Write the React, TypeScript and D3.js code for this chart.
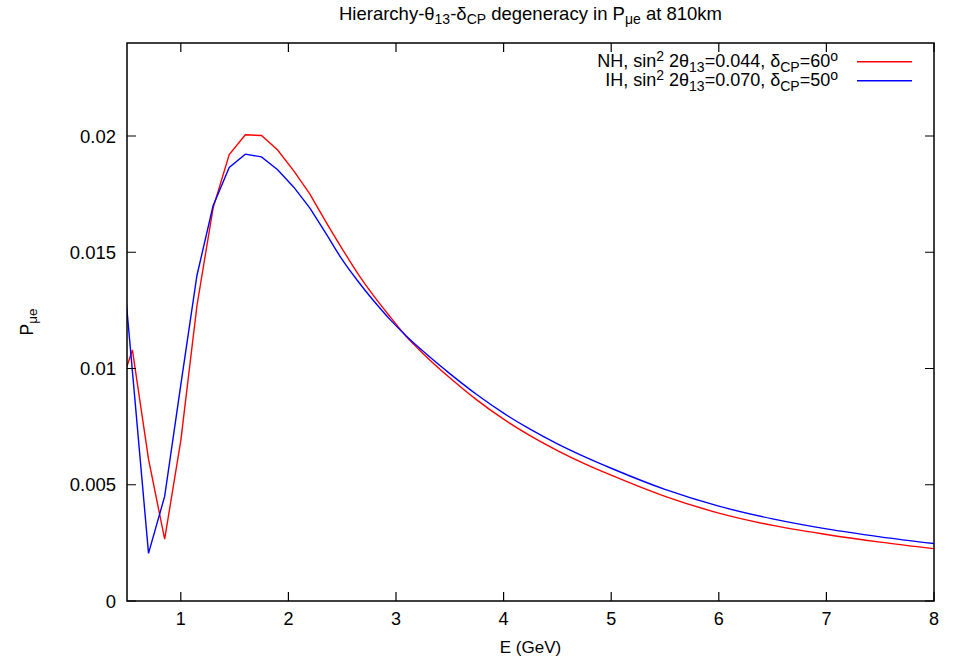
import React from 'react'
import * as d3 from 'd3'

// energies (GeV) and oscillation probabilities
const energies = [0.4, 0.55, 0.7, 0.85, 1.0, 1.15, 1.3, 1.45, 1.6, 1.75, 1.9, 2.05, 2.2, 2.35, 2.5, 2.65, 2.8, 2.95, 3.1, 3.25, 3.5, 3.75, 4.0, 4.25, 4.5, 4.75, 5.0, 5.5, 6.0, 6.5, 7.0, 7.5, 8.0]
const nhValues = [0.0087, 0.0108, 0.0061, 0.00266, 0.0069, 0.0127, 0.0169, 0.0192, 0.02005, 0.02002, 0.0194, 0.0185, 0.0175, 0.0163, 0.01515, 0.01405, 0.01308, 0.0122, 0.01135, 0.01065, 0.0096, 0.00865, 0.00782, 0.0071, 0.00647, 0.00591, 0.00541, 0.0045, 0.00378, 0.00325, 0.00286, 0.00253, 0.00225]
const ihValues = [0.0177, 0.0099, 0.00205, 0.0045, 0.0093, 0.014, 0.017, 0.01865, 0.01922, 0.0191, 0.01855, 0.0178, 0.0169, 0.0158, 0.01468, 0.01373, 0.01287, 0.01208, 0.01138, 0.01075, 0.00978, 0.00888, 0.00808, 0.00738, 0.00676, 0.00621, 0.00571, 0.0048, 0.00408, 0.00353, 0.0031, 0.00276, 0.00247]
// the curves are drawn with straight segments up to here, smooth after
const smoothFrom = 2.2

const xTicks = [1, 2, 3, 4, 5, 6, 7, 8]
const yTicks = [0, 0.005, 0.01, 0.015, 0.02]
const yTickLabels = ['0', '0.005', '0.01', '0.015', '0.02']

function App() {
  const width = 953
  const height = 658
  const margin = { top: 43, right: 19, bottom: 57, left: 127 }
  const innerW = width - margin.left - margin.right
  const innerH = height - margin.top - margin.bottom
  const tick = 9
  const font = 'Liberation Sans, Arial, Helvetica, sans-serif'

  const xScale = d3.scaleLinear().domain([0.5, 8]).range([0, innerW])
  const yScale = d3.scaleLinear().domain([0, 0.024]).range([innerH, 0])

  const rough = d3
    .line<[number, number]>()
    .x(d => xScale(d[0]))
    .y(d => yScale(d[1]))
  const smooth = d3
    .line<[number, number]>()
    .x(d => xScale(d[0]))
    .y(d => yScale(d[1]))
    .curve(d3.curveMonotoneX)

  const series = [
    { name: 'NH', values: nhValues, color: '#ff0000' },
    { name: 'IH', values: ihValues, color: '#0000ff' },
  ]

  const paths = series.map(s => {
    const pts: [number, number][] = energies.map((e, i) => [e, s.values[i]])
    const a = pts.filter(p => p[0] <= smoothFrom)
    const b = pts.filter(p => p[0] >= smoothFrom)
    return { ...s, d: (rough(a) || '') + (smooth(b) || '') }
  })

  return (
    <div style={{ position: 'absolute', left: 0, top: 0 }}>
      <svg width={width} height={height} style={{ display: 'block', fontFamily: font }}>
        <rect width={width} height={height} fill="white" />
        <defs>
          <clipPath id="plot-clip">
            <rect width={innerW} height={innerH} />
          </clipPath>
        </defs>

        {/* title */}
        <text x={margin.left + innerW / 2} y={20} textAnchor="middle" fontSize={18.5}>
          Hierarchy-θ<tspan fontSize={14} dy={4}>13</tspan>
          <tspan dy={-4}>-δ</tspan><tspan fontSize={14} dy={4}>CP</tspan>
          <tspan dy={-4}> degeneracy in P</tspan><tspan fontSize={14} dy={4}>μe</tspan>
          <tspan dy={-4}> at 810km</tspan>
        </text>

        <g transform={`translate(${margin.left} ${margin.top})`}>
          {/* curves */}
          <g clipPath="url(#plot-clip)">
            {paths.map(s => (
              <path key={s.name} d={s.d} fill="none" stroke={s.color} strokeWidth={1.4} strokeLinejoin="miter" />
            ))}
          </g>

          {/* frame */}
          <rect width={innerW} height={innerH} fill="none" stroke="black" strokeWidth={1.5} />

          {/* x ticks, mirrored on top */}
          {xTicks.map(t => (
            <g key={t} transform={`translate(${xScale(t)} 0)`}>
              <path d={`M 0 ${innerH} V ${innerH - tick} M 0 0 V ${tick}`} stroke="black" strokeWidth={1.2} />
              <text y={innerH + 24} textAnchor="middle" fontSize={18}>{t}</text>
            </g>
          ))}

          {/* y ticks, mirrored on the right */}
          {yTicks.map((t, i) => (
            <g key={t} transform={`translate(0 ${yScale(t)})`}>
              <path d={`M 0 0 H ${tick} M ${innerW} 0 H ${innerW - tick}`} stroke="black" strokeWidth={1.2} />
              <text x={-11} dy="0.36em" textAnchor="end" fontSize={18.5}>{yTickLabels[i]}</text>
            </g>
          ))}

          {/* axis labels */}
          <text x={innerW / 2} y={innerH + 52} textAnchor="middle" fontSize={17}>E (GeV)</text>
          <text transform={`translate(-94 ${innerH / 2}) rotate(-90)`} textAnchor="middle" fontSize={17.5}>
            P<tspan fontSize={13.5} dy={4}>μe</tspan>
          </text>

          {/* legend */}
          <g transform={`translate(${innerW - 96} 0)`}>
            <text x={0} y={24} textAnchor="end" fontSize={18}>
              NH, sin<tspan fontSize={14} dy={-6}>2</tspan>
              <tspan dy={6}> 2θ</tspan><tspan fontSize={14} dy={5}>13</tspan>
              <tspan dy={-5}>=0.044, δ</tspan><tspan fontSize={14} dy={5}>CP</tspan>
              <tspan dy={-5}>=60</tspan><tspan fontSize={14} dy={-6}>o</tspan>
            </text>
            <path d={`M 19 ${18.7} H 74`} stroke={series[0].color} strokeWidth={1.4} />
            <text x={0} y={43} textAnchor="end" fontSize={18}>
              IH, sin<tspan fontSize={14} dy={-6}>2</tspan>
              <tspan dy={6}> 2θ</tspan><tspan fontSize={14} dy={5}>13</tspan>
              <tspan dy={-5}>=0.070, δ</tspan><tspan fontSize={14} dy={5}>CP</tspan>
              <tspan dy={-5}>=50</tspan><tspan fontSize={14} dy={-6}>o</tspan>
            </text>
            <path d={`M 19 ${37.7} H 74`} stroke={series[1].color} strokeWidth={1.4} />
          </g>
        </g>
      </svg>
    </div>
  )
}

export default App
